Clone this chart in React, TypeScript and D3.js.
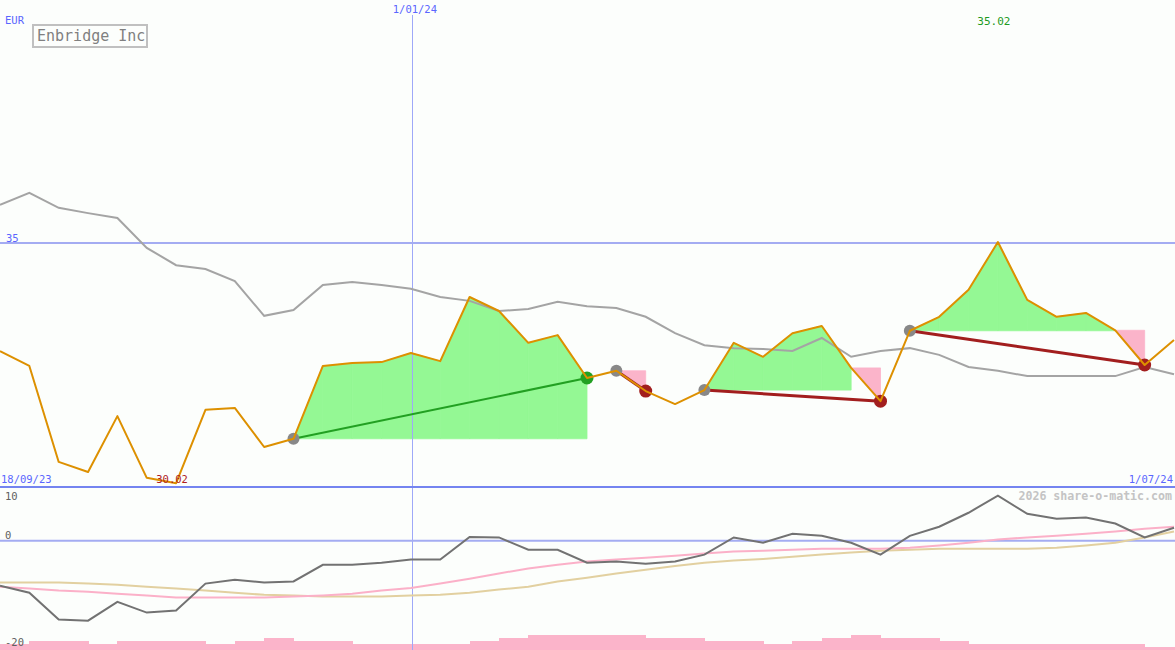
import React from 'react';
import * as d3 from 'd3';

const W = 1175;
const H = 650;

// weekly closes, EUR
const price = [
  32.76, 32.45, 30.46, 30.25, 31.41, 30.13, 30.02, 31.54, 31.58, 30.77,
  30.94, 32.45, 32.51, 32.53, 32.72, 32.55, 33.88, 33.59, 32.93, 33.09,
  32.2, 32.35, 31.93, 31.66, 31.95, 32.93, 32.64, 33.13, 33.28, 32.41,
  31.72, 33.18, 33.47, 34.03, 35.02, 33.82, 33.47, 33.55, 33.19, 32.47,
  32.99,
];

const average = [
  35.79, 36.04, 35.73, 35.62, 35.52, 34.9, 34.54, 34.46, 34.21, 33.49,
  33.61, 34.13, 34.19, 34.13, 34.05, 33.88, 33.8, 33.59, 33.63, 33.78,
  33.69, 33.65, 33.47, 33.13, 32.88, 32.82, 32.8, 32.76, 33.03, 32.64,
  32.76, 32.82, 32.68, 32.43, 32.35, 32.24, 32.24, 32.24, 32.24, 32.43,
  32.28,
];

const momentum = [
  -8.4, -9.7, -14.7, -14.9, -11.4, -13.4, -13.0, -8.0, -7.3, -7.8,
  -7.6, -4.5, -4.5, -4.1, -3.5, -3.5, 0.7, 0.6, -1.7, -1.7,
  -4.1, -3.9, -4.3, -3.9, -2.6, 0.6, -0.4, 1.3, 0.9, -0.4,
  -2.6, 0.9, 2.6, 5.2, 8.4, 5.0, 4.1, 4.3, 3.2, 0.6,
  2.4,
];

const signalFast = [
  -8.6, -8.9, -9.3, -9.5, -9.9, -10.2, -10.6, -10.6, -10.6, -10.6,
  -10.4, -10.2, -9.9, -9.3, -8.8, -8.0, -7.1, -6.1, -5.2, -4.5,
  -3.9, -3.5, -3.2, -2.8, -2.4, -2.0, -1.9, -1.7, -1.5, -1.5,
  -1.5, -1.3, -0.9, -0.4, 0.2, 0.6, 0.9, 1.3, 1.7, 2.2,
  2.6,
];

const signalSlow = [
  -7.8, -7.8, -7.8, -8.0, -8.2, -8.6, -8.9, -9.3, -9.7, -10.1,
  -10.2, -10.4, -10.4, -10.4, -10.2, -10.1, -9.7, -9.1, -8.6, -7.6,
  -6.9, -6.1, -5.4, -4.7, -4.1, -3.7, -3.4, -3.0, -2.6, -2.2,
  -1.9, -1.7, -1.5, -1.5, -1.5, -1.5, -1.3, -0.9, -0.4, 0.6,
  1.7,
];

// one value per week interval
const volume = [
  2, 3, 3, 2, 3, 3, 3, 2, 3, 4,
  3, 3, 2, 2, 2, 2, 3, 4, 5, 5,
  5, 5, 4, 4, 3, 3, 2, 3, 4, 5,
  4, 4, 3, 2, 2, 2, 2, 2, 2, 1,
];

const trades = [
  { entry: 10, exit: 20 },
  { entry: 21, exit: 22 },
  { entry: 24, exit: 30 },
  { entry: 31, exit: 39 },
];

const dateLabels = ['18/09/23', '1/01/24', '1/07/24'];
const dateIndex = [0, 14, 40];
const priceTicks = [35];
const oscTicks = [10, 0, -20];

const BLUE = '#5a66ff';
const GREEN_FILL = '#94f894';
const PINK = '#fbb4ca';
const ORANGE = '#dd9000';
const MONO = '"DejaVu Sans Mono", monospace';

export default function App() {
  const x = d3.scaleLinear().domain([0, price.length - 1]).range([0, W - 1]);
  const y = d3.scaleLinear().domain([29.94, 40.04]).range([487, 0]);
  const oy = d3.scaleLinear().domain([-20, 10]).range([648, 487]);
  const vy = d3.scaleLinear().domain([0, 5]).range([650, 635]);

  const line = d3.line<number>().x((_, i) => x(i)).y(d => y(d));
  const oline = d3.line<number>().x((_, i) => x(i)).y(d => oy(d));
  const poly = d3.line<[number, number]>();

  // fills between the price and the entry level, per weekly segment
  const fills: { d: string; fill: string }[] = [];
  trades.forEach(t => {
    const e = price[t.entry];
    for (let i = t.entry; i < t.exit; i++) {
      const a = price[i], b = price[i + 1];
      if (b >= e) {
        fills.push({
          d: poly([[x(i), y(a)], [x(i + 1), y(b)], [x(i + 1), y(e)], [x(i), y(e)]]) + 'Z',
          fill: GREEN_FILL,
        });
      } else {
        fills.push({
          d: poly([[x(i), y(a)], [x(i + 1), y(a)], [x(i + 1), y(b)]]) + 'Z',
          fill: PINK,
        });
      }
    }
  });

  const maxI = price.indexOf(d3.max(price)!);
  const minI = price.indexOf(d3.min(price)!);
  const vx = Math.round(x(dateIndex[1])) + 1.5;

  return (
    <svg width={W} height={H} style={{ position: 'absolute', left: 0, top: 0, background: '#fcfefc' }}>
      <rect width={W} height={H} fill="#fcfefc" />

      {/* volume */}
      {volume.map((v, i) => (
        <rect key={i} x={x(i)} width={x(i + 1) - x(i) + 0.5} y={vy(v)} height={vy(0) - vy(v)}
          fill={PINK} shapeRendering="crispEdges" />
      ))}

      {/* trade areas */}
      {fills.map((f, i) => (
        <path key={i} d={f.d} fill={f.fill} stroke={f.fill} strokeWidth={0.8} strokeLinejoin="miter" />
      ))}

      {/* grid */}
      <line x1={vx} x2={vx} y1={15} y2={H} stroke="#9ea8f8" strokeWidth={1} />
      {priceTicks.map(t => (
        <g key={t}>
          <line x1={0} x2={W} y1={y(t)} y2={y(t)} stroke="#a4acf2" strokeWidth={2} />
          <text x={6} y={y(t) - 1} fill={BLUE} fontSize={10.5} fontFamily={MONO}>{t}</text>
        </g>
      ))}
      <line x1={0} x2={W} y1={oy(0)} y2={oy(0)} stroke="#a4acf2" strokeWidth={2} />
      <line x1={0} x2={W} y1={487} y2={487} stroke="#7484f0" strokeWidth={2} />

      {/* oscillator panel */}
      <path d={oline(signalSlow)!} fill="none" stroke="#e2d0a0" strokeWidth={2} />
      <path d={oline(signalFast)!} fill="none" stroke="#fbb0c8" strokeWidth={2} />
      <path d={oline(momentum)!} fill="none" stroke="#727272" strokeWidth={2} />
      {oscTicks.map((t, i) => (
        <text key={t} x={5} y={i === 0 ? oy(t) + 13 : oy(t) - 2} fill="#606060" fontSize={10.5} fontFamily={MONO}>{t}</text>
      ))}

      {/* moving average */}
      <path d={line(average)!} fill="none" stroke="#a4a4a4" strokeWidth={2} />

      {/* trade lines and markers */}
      {trades.map((t, i) => {
        const win = price[t.exit] > price[t.entry];
        const c = win ? '#22a022' : '#a21e1e';
        return (
          <g key={i}>
            <line x1={x(t.entry)} y1={y(price[t.entry])} x2={x(t.exit)} y2={y(price[t.exit])}
              stroke={c} strokeWidth={win ? 2 : 3} />
            <circle cx={x(t.entry)} cy={y(price[t.entry])} r={6} fill="#888888" />
            <circle cx={x(t.exit)} cy={y(price[t.exit])} r={6.5} fill={c} />
          </g>
        );
      })}

      {/* price */}
      <path d={line(price)!} fill="none" stroke={ORANGE} strokeWidth={2} strokeLinejoin="round" />

      {/* labels */}
      <text x={5} y={24} fill={BLUE} fontSize={10.5} fontFamily={MONO}>EUR</text>
      <rect x={33} y={25} width={114} height={22} fill="#fcfefc" stroke="#c0c0c0" strokeWidth={2} />
      <text x={37} y={41} fill="#808080" fontSize={15} fontFamily={MONO}>Enbridge Inc</text>

      <text x={x(dateIndex[1]) + 4} y={13} textAnchor="middle" fill={BLUE} fontSize={10.5} fontFamily={MONO}>{dateLabels[1]}</text>
      <text x={1} y={483} fill={BLUE} fontSize={10.5} fontFamily={MONO}>{dateLabels[0]}</text>
      <text x={W - 2} y={483} textAnchor="end" fill={BLUE} fontSize={10.5} fontFamily={MONO}>{dateLabels[2]}</text>

      <text x={x(maxI) - 4} y={25} textAnchor="middle" fill="#1e9a1e" fontSize={11} fontFamily={MONO}>{price[maxI].toFixed(2)}</text>
      <text x={x(minI) - 4} y={483} textAnchor="middle" fill="#b01c1c" fontSize={10.5} fontFamily={MONO}>{price[minI].toFixed(2)}</text>

      <text x={W - 3} y={500} textAnchor="end" fill="#c4c4c4" fontSize={11.6} fontWeight="bold" fontFamily={MONO}>2026 share-o-matic.com</text>
    </svg>
  );
}
